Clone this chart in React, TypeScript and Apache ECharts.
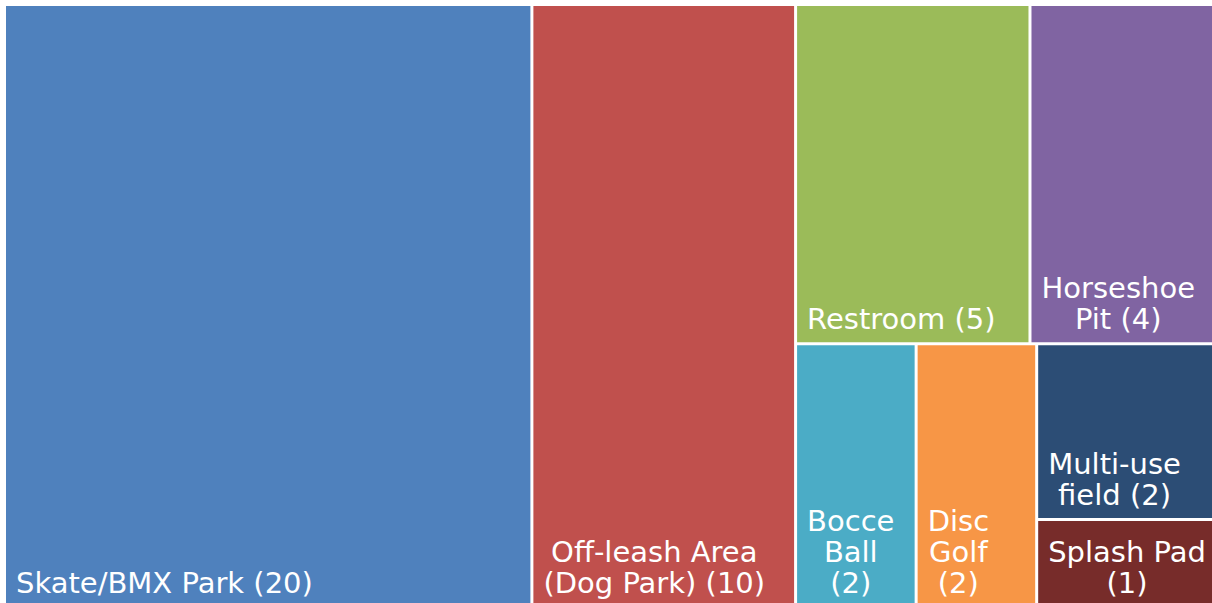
import React, { useEffect, useRef } from 'react';
import * as echarts from 'echarts';

// ---- Data ----
const categories = [
  'Skate/BMX Park',
  'Off-leash Area (Dog Park)',
  'Restroom',
  'Horseshoe Pit',
  'Bocce Ball',
  'Disc Golf',
  'Multi-use field',
  'Splash Pad',
];
const values = [20, 10, 5, 4, 2, 2, 2, 1];
const wrappedNames = [
  'Skate/BMX Park',
  'Off-leash Area\n(Dog Park)',
  'Restroom',
  'Horseshoe\nPit',
  'Bocce\nBall',
  'Disc\nGolf',
  'Multi-use\nfield',
  'Splash Pad',
];
const valueOnNewLine = [false, false, false, false, true, true, false, true];
const colors = ['#4F81BD', '#C0504D', '#9BBB59', '#8064A2', '#4BACC6', '#F79646', '#2C4D75', '#772C2A'];

const FONT_FAMILY = 'DejaVu Sans';
const FONT_SIZE = 29;
const LINE_HEIGHT = 31;
const PAD_LEFT = 10;
const PAD_BOTTOM = 8;

function labelText(i: number): string {
  return wrappedNames[i] + (valueOnNewLine[i] ? '\n' : ' ') + '(' + values[i] + ')';
}

function blockWidth(text: string): number {
  const cv = document.createElement('canvas');
  const ctx = cv.getContext('2d');
  if (!ctx) return 0;
  ctx.font = `${FONT_SIZE}px "${FONT_FAMILY}"`;
  return Math.max(...text.split('\n').map((l) => ctx.measureText(l).width));
}

export default function App() {
  const ref = useRef<HTMLDivElement>(null);

  useEffect(() => {
    if (!ref.current) return;
    const chart = echarts.init(ref.current, undefined, { renderer: 'svg' });

    const data = categories.map((name, i) => {
      const text = labelText(i);
      const w = blockWidth(text);
      return {
        name,
        value: values[i],
        itemStyle: { color: colors[i] },
        label: {
          position: [PAD_LEFT + w / 2, '100%'],
          offset: [0, -PAD_BOTTOM],
          align: 'center',
          verticalAlign: 'bottom',
        },
      };
    });

    chart.setOption({
      animation: false,
      backgroundColor: '#ffffff',
      series: [
        {
          type: 'treemap',
          left: 0,
          top: 0,
          width: '100%',
          height: '100%',
          roam: false,
          nodeClick: false,
          sort: false,
          squareRatio: 0.905,
          visibleMin: 0,
          breadcrumb: { show: false },
          itemStyle: { borderWidth: 0, gapWidth: 3, borderColor: '#ffffff' },
          levels: [{ itemStyle: { borderWidth: 0, gapWidth: 3, borderColor: '#ffffff' } }],
          label: {
            show: true,
            color: '#ffffff',
            fontFamily: FONT_FAMILY,
            fontSize: FONT_SIZE,
            fontWeight: 'normal',
            lineHeight: LINE_HEIGHT,
            padding: 0,
            overflow: 'none',
            formatter: (p: any) => {
              const i = categories.indexOf(p.name);
              return i >= 0 ? labelText(i) : '';
            },
          },
          emphasis: { disabled: true },
          data,
        },
      ],
    });

    return () => chart.dispose();
  }, []);

  return (
    <div
      style={{
        position: 'fixed',
        left: 0,
        top: 0,
        width: 1212,
        height: 603,
        overflow: 'hidden',
        background: '#ffffff',
      }}
    >
      <div
        ref={ref}
        style={{ position: 'absolute', left: 6, top: 6, width: 1210, height: 600 }}
      />
    </div>
  );
}
